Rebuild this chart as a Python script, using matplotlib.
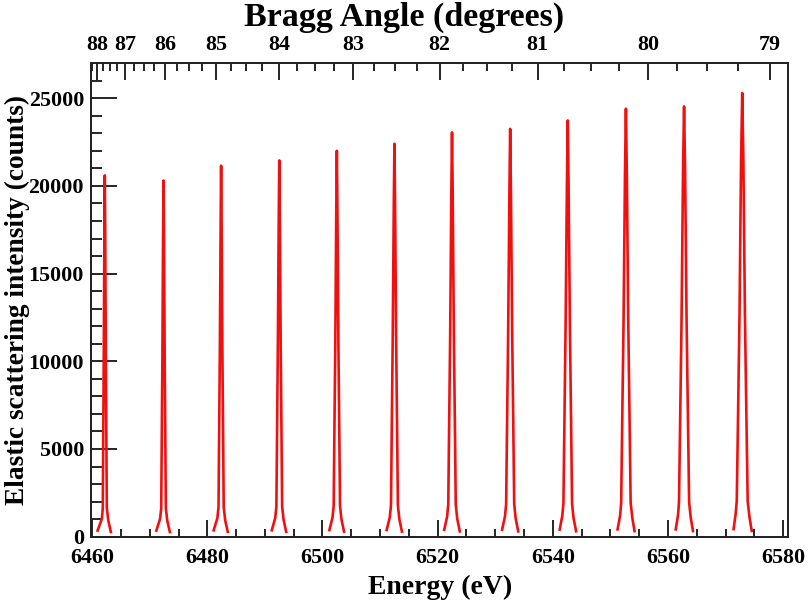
import numpy as np
import matplotlib
matplotlib.use('Agg')
import matplotlib.pyplot as plt

plt.rcParams['font.family'] = ['Liberation Serif', 'DejaVu Serif']
plt.rcParams['font.weight'] = 'bold'

# peak centres (eV) and heights (counts)
centers = [6462.2, 6472.4, 6482.4, 6492.5, 6502.5, 6512.5,
           6522.5, 6532.6, 6542.6, 6552.7, 6562.8, 6572.9]
heights = [20600, 20300, 21150, 21450, 22000, 22400,
           23050, 23250, 23730, 24400, 24530, 25300]

# shared profile levels (fraction of peak height), left tail -> top -> right tail
levels = [0.017, 0.05, 0.08, 0.25, 0.5, 0.85, 1.0, 0.85, 0.5, 0.25, 0.08, 0.045, 0.013]

# offsets from centre (eV) for each peak at the levels above
offsets = [
    [-1.25, -0.50, -0.35, -0.28, -0.18, -0.07, 0, 0.07, 0.18, 0.28, 0.35, 0.60, 1.05],
    [-1.25, -0.60, -0.40, -0.32, -0.20, -0.08, 0, 0.08, 0.20, 0.32, 0.40, 0.65, 1.10],
    [-1.30, -0.65, -0.45, -0.36, -0.22, -0.08, 0, 0.08, 0.22, 0.36, 0.45, 0.70, 1.15],
    [-1.30, -0.70, -0.50, -0.40, -0.25, -0.09, 0, 0.09, 0.25, 0.40, 0.50, 0.75, 1.20],
    [-1.30, -0.75, -0.55, -0.44, -0.27, -0.10, 0, 0.10, 0.27, 0.44, 0.55, 0.80, 1.25],
    [-1.35, -0.80, -0.60, -0.48, -0.30, -0.11, 0, 0.11, 0.30, 0.48, 0.60, 0.85, 1.30],
    [-1.35, -0.85, -0.65, -0.52, -0.32, -0.12, 0, 0.12, 0.32, 0.52, 0.65, 0.90, 1.35],
    [-1.40, -0.90, -0.70, -0.56, -0.35, -0.13, 0, 0.13, 0.35, 0.56, 0.70, 0.95, 1.40],
    [-1.40, -0.95, -0.75, -0.60, -0.38, -0.14, 0, 0.14, 0.38, 0.60, 0.75, 1.00, 1.45],
    [-1.45, -1.00, -0.82, -0.66, -0.41, -0.16, 0, 0.16, 0.41, 0.66, 0.82, 1.10, 1.50],
    [-1.45, -1.05, -0.88, -0.70, -0.44, -0.18, 0, 0.18, 0.44, 0.70, 0.88, 1.15, 1.55],
    [-1.50, -1.15, -0.95, -0.75, -0.47, -0.20, 0, 0.20, 0.47, 0.75, 0.95, 1.25, 1.65],
]

# Bragg angle axis: E * sin(theta) = const
bragg_const = 6456.9
angle_major = [79, 80, 81, 82, 83, 84, 85, 86, 87, 88]
angle_minor = np.arange(79.0, 88.26, 0.25)

fig = plt.figure(figsize=(8.08, 6.01), dpi=100)
ax = fig.add_axes([0.1126, 0.107, 0.863, 0.788])

for c, h, off in zip(centers, heights, offsets):
    E = [c + o for o in off]
    I = [h * f for f in levels]
    ax.plot(E, I, color='#f01010', lw=1.9, solid_joinstyle='round')

ax.set_xlim(6459.8, 6580.9)
ax.set_ylim(0, 27000)
ax.set_xticks(np.arange(6460, 6581, 20))
ax.set_xticks(np.arange(6460, 6581, 5), minor=True)
ax.set_yticks(np.arange(0, 25001, 5000))
ax.set_yticks(np.arange(0, 27000, 1000), minor=True)

ax.tick_params(axis='x', which='major', direction='in', length=12, width=1.2, labelsize=15.8, pad=8.5, top=False)
ax.tick_params(axis='x', which='minor', direction='in', length=6, width=1.2, top=False)
ax.tick_params(axis='y', which='major', direction='in', length=19, width=1.2, labelsize=15.8, pad=5, right=False)
ax.tick_params(axis='y', which='minor', direction='in', length=8, width=1.2, right=False)
for lab in ax.get_xticklabels() + ax.get_yticklabels():
    lab.set_fontweight('bold')

ax.set_xlabel('Energy (eV)', fontsize=20, fontweight='bold', va='center')
ax.xaxis.set_label_coords(0.5, -0.108)
ax.set_ylabel('Elastic scattering intensity (counts)', fontsize=19.7, fontweight='bold', va='center')
ax.yaxis.set_label_coords(-0.106, 0.5)

for sp in ax.spines.values():
    sp.set_linewidth(1.3)
    sp.set_color('#222222')

ax2 = ax.twiny()
ax2.set_xlim(ax.get_xlim())
ax2.set_xticks([bragg_const / np.sin(np.radians(a)) for a in angle_major])
ax2.set_xticklabels([str(a) for a in angle_major])
ax2.set_xticks([bragg_const / np.sin(np.radians(a)) for a in angle_minor
                if bragg_const / np.sin(np.radians(a)) >= 6459.8], minor=True)
ax2.tick_params(axis='x', which='major', direction='in', length=12, width=1.2, labelsize=15.8, pad=6)
ax2.tick_params(axis='x', which='minor', direction='in', length=6, width=1.2)
for lab in ax2.get_xticklabels():
    lab.set_fontweight('bold')
ax2.set_xlabel('Bragg Angle (degrees)', fontsize=24.5, fontweight='bold', va='center')
ax2.xaxis.set_label_coords(0.449, 1.097)
for sp in ax2.spines.values():
    sp.set_linewidth(1.3)
    sp.set_color('#222222')

fig.savefig('out.png', dpi=100)
